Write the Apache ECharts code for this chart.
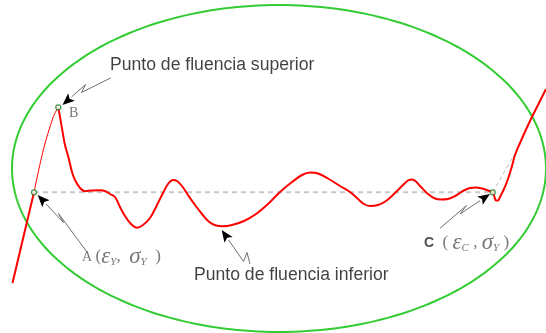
<!DOCTYPE html>
<html>
<head>
<meta charset="utf-8">
<script src="https://cdn.jsdelivr.net/npm/echarts/dist/echarts.min.js"></script>
<style>
  html, body { margin: 0; padding: 0; background: #ffffff; }
  #chart { width: 546px; height: 333px; }
</style>
</head>
<body>
<div id="chart"></div>
<script>
// Idealised stress–strain curve of mild steel: elastic rise, upper yield
// point B, serrated yield plateau between A and C, then strain hardening.
// Horizontal: strain (diagram units); vertical: stress (diagram units).

// Elastic loading up to A
const elasticStrain = [12.5, 34];
const elasticStress = [50, 140.7];

// Thin elastic branch from A up to the upper yield point B
const upperStrain = [34, 43.3, 53.3, 58.3];
const upperStress = [140.7, 183, 216.3, 225.7];

// Drop from B, yield plateau oscillations, C and strain hardening
const yieldStrain = [
  58.3, 61.7, 65, 68.3, 72, 75, 80, 85, 92, 100, 106, 110, 115, 120, 125, 131,
  137, 143, 150, 157, 163, 168, 173, 177, 182, 188, 195, 202, 209, 216, 223,
  232, 244, 256, 268, 280, 292, 302, 310, 318, 328, 340, 350, 358, 364, 370,
  378, 386, 395, 403, 408, 412, 416, 421, 428, 435, 441, 448, 456, 463, 470,
  476, 482, 488, 492.7, 494.5, 496, 498, 500, 504, 508, 512, 515, 520, 530,
  538, 546
];
const yieldStress = [
  225.7, 206.3, 188, 176.3, 161, 153, 145, 141.8, 142.5, 142.8, 141.5, 139,
  136, 126, 117, 109, 105.3, 108, 115, 128, 140, 149, 153, 152, 147, 138, 128,
  119, 111.3, 107.5, 106.8, 108, 112, 119, 129, 141, 151, 158, 160.5, 159.5,
  154.5, 147, 141, 134, 129, 127, 128, 132, 140, 148, 152.5, 153.5, 151.5, 146,
  139, 134.5, 133.5, 134, 137.5, 142, 145, 145.5, 144.5, 142.5, 140.7, 136,
  132.5, 132.5, 136, 144, 154, 167, 178, 190, 212, 228, 244
];

// Yield stress level σY from A to C, and the hardening tangent from C
const yieldLevelStrain = [34, 492.7];
const yieldLevelStress = [140.7, 140.7];
const tangentStrain = [492.7, 515];
const tangentStress = [140.7, 179.7];

// Characteristic points
const pointNames = ['A', 'B', 'C'];
const pointStrain = [34, 58.3, 492.7];
const pointStress = [140.7, 225.7, 140.7];

// Highlight ellipse around the yield zone: centre and semi-axes
const ellipseCentre = [279, 164.5];
const ellipseRadii = [267, 163.5];

// Lightning-style callout arrows (tail first, tip last)
const calloutArrows = [
  [[110.5, 255], [81.5, 240.5], [85.5, 248.5], [62.5, 228]], // upper yield point
  [[86.7, 81.3], [58.5, 119.5], [63.5, 110.5], [37.7, 138]],  // A
  [[250, 69], [247, 80.5], [243.5, 71.5], [221.7, 103]],      // lower yield point
  [[440, 104.7], [466.5, 127.5], [460, 119], [490, 139]]      // C
];

// Annotation texts and their anchors
const labelTexts = [
  'Punto de fluencia superior',
  '{r|B}',
  '{r|A }{p|(}{g|ε}{s|Y}{p|,  }{g|σ}{s|Y}{p|  )}',
  'Punto de fluencia inferior',
  '{b|C}{p|  ( }{g|ε}{s|C}{p| , }{g|σ}{s|Y}{p| )}'
];
const labelStrain = [110, 69, 82, 194, 424];
const labelStress = [268, 220, 76, 58, 90];

const zip = (xs, ys) => xs.map((x, i) => [x, ys[i]]);

const chart = echarts.init(document.getElementById('chart'), null, { renderer: 'canvas' });

const serif = 'Liberation Serif';
const greyText = '#555555';

const option = {
  animation: false,
  backgroundColor: '#ffffff',
  grid: { left: 0, right: 0, top: 0, bottom: 0, containLabel: false },
  xAxis: { type: 'value', min: 0, max: 546, show: false },
  yAxis: { type: 'value', min: 0, max: 333, show: false },
  series: [
    {
      name: 'zona',
      type: 'custom',
      silent: true,
      z: 1,
      clip: false,
      data: [[ellipseCentre[0], ellipseCentre[1], ellipseRadii[0], ellipseRadii[1]]],
      renderItem: function (params, api) {
        const c = api.coord([api.value(0), api.value(1)]);
        const r = api.size([api.value(2), api.value(3)]);
        const pts = [];
        for (let k = 0; k < 240; k++) {
          const t = (k / 240) * Math.PI * 2;
          pts.push([c[0] + r[0] * Math.cos(t), c[1] + r[1] * Math.sin(t)]);
        }
        return {
          type: 'polygon',
          shape: { points: pts },
          style: { fill: 'none', stroke: '#33cc33', lineWidth: 2 }
        };
      }
    },
    {
      name: 'σY',
      type: 'line',
      z: 2,
      data: zip(yieldLevelStrain, yieldLevelStress),
      symbol: 'none',
      lineStyle: { color: '#c8c8c8', width: 2, type: [5, 4] }
    },
    {
      name: 'tangente',
      type: 'line',
      z: 2,
      data: zip(tangentStrain, tangentStress),
      symbol: 'none',
      lineStyle: { color: '#bbbbbb', width: 1, type: [4, 3] }
    },
    {
      name: 'elástica',
      type: 'line',
      z: 3,
      data: zip(elasticStrain, elasticStress),
      symbol: 'none',
      lineStyle: { color: '#ff0000', width: 2 }
    },
    {
      name: 'superior',
      type: 'line',
      z: 3,
      data: zip(upperStrain, upperStress),
      symbol: 'none',
      smooth: 0.3,
      lineStyle: { color: '#ff0000', width: 1 }
    },
    {
      name: 'fluencia',
      type: 'line',
      z: 3,
      data: zip(yieldStrain, yieldStress),
      symbol: 'none',
      smooth: 0.35,
      lineStyle: { color: '#ff0000', width: 2 }
    },
    {
      name: 'flechas',
      type: 'custom',
      silent: true,
      z: 4,
      clip: false,
      data: calloutArrows.map((a, i) => [a[a.length - 1][0], a[a.length - 1][1], i]),
      renderItem: function (params, api) {
        const arrow = calloutArrows[api.value(2)];
        const px = arrow.map(p => api.coord(p));
        const tip = px[px.length - 1];
        const prev = px[px.length - 2];
        const dx = tip[0] - prev[0], dy = tip[1] - prev[1];
        const len = Math.sqrt(dx * dx + dy * dy);
        const ux = dx / len, uy = dy / len;
        const headLen = 12, headHalf = 5;
        const base = [tip[0] - ux * headLen, tip[1] - uy * headLen];
        const shaft = px.slice(0, -1).concat([base]);
        return {
          type: 'group',
          children: [
            {
              type: 'polyline',
              shape: { points: shaft },
              style: { stroke: '#707070', lineWidth: 1, fill: null }
            },
            {
              type: 'polygon',
              shape: {
                points: [
                  tip,
                  [base[0] - uy * headHalf, base[1] + ux * headHalf],
                  [base[0] + ux * 2.5, base[1] + uy * 2.5],
                  [base[0] + uy * headHalf, base[1] - ux * headHalf]
                ]
              },
              style: { fill: '#000000', stroke: null }
            }
          ]
        };
      }
    },
    {
      name: 'puntos',
      type: 'scatter',
      z: 5,
      data: pointNames.map((n, i) => ({ name: n, value: [pointStrain[i], pointStress[i]] })),
      symbol: 'circle',
      symbolSize: 5,
      itemStyle: { color: '#ffffff', borderColor: '#1e7a1e', borderWidth: 1.3 }
    },
    {
      name: 'textos',
      type: 'scatter',
      z: 6,
      silent: true,
      symbolSize: 0,
      data: labelTexts.map((t, i) => ({ value: [labelStrain[i], labelStress[i]], text: t })),
      label: {
        show: true,
        position: 'right',
        distance: 0,
        formatter: function (p) { return p.data.text; },
        fontFamily: 'Liberation Sans',
        fontSize: 17.6,
        color: '#111111',
        rich: {
          r: { fontFamily: serif, fontSize: 14, color: greyText },
          p: { fontFamily: serif, fontSize: 17, color: greyText },
          g: { fontFamily: serif, fontStyle: 'italic', fontSize: 23, color: greyText },
          s: { fontFamily: serif, fontStyle: 'italic', fontSize: 11, color: greyText, padding: [11, 0, 0, 0] },
          b: { fontFamily: 'Liberation Sans', fontWeight: 'bold', fontSize: 14, color: '#222222' }
        }
      }
    }
  ]
};

chart.setOption(option);
</script>
</body>
</html>
